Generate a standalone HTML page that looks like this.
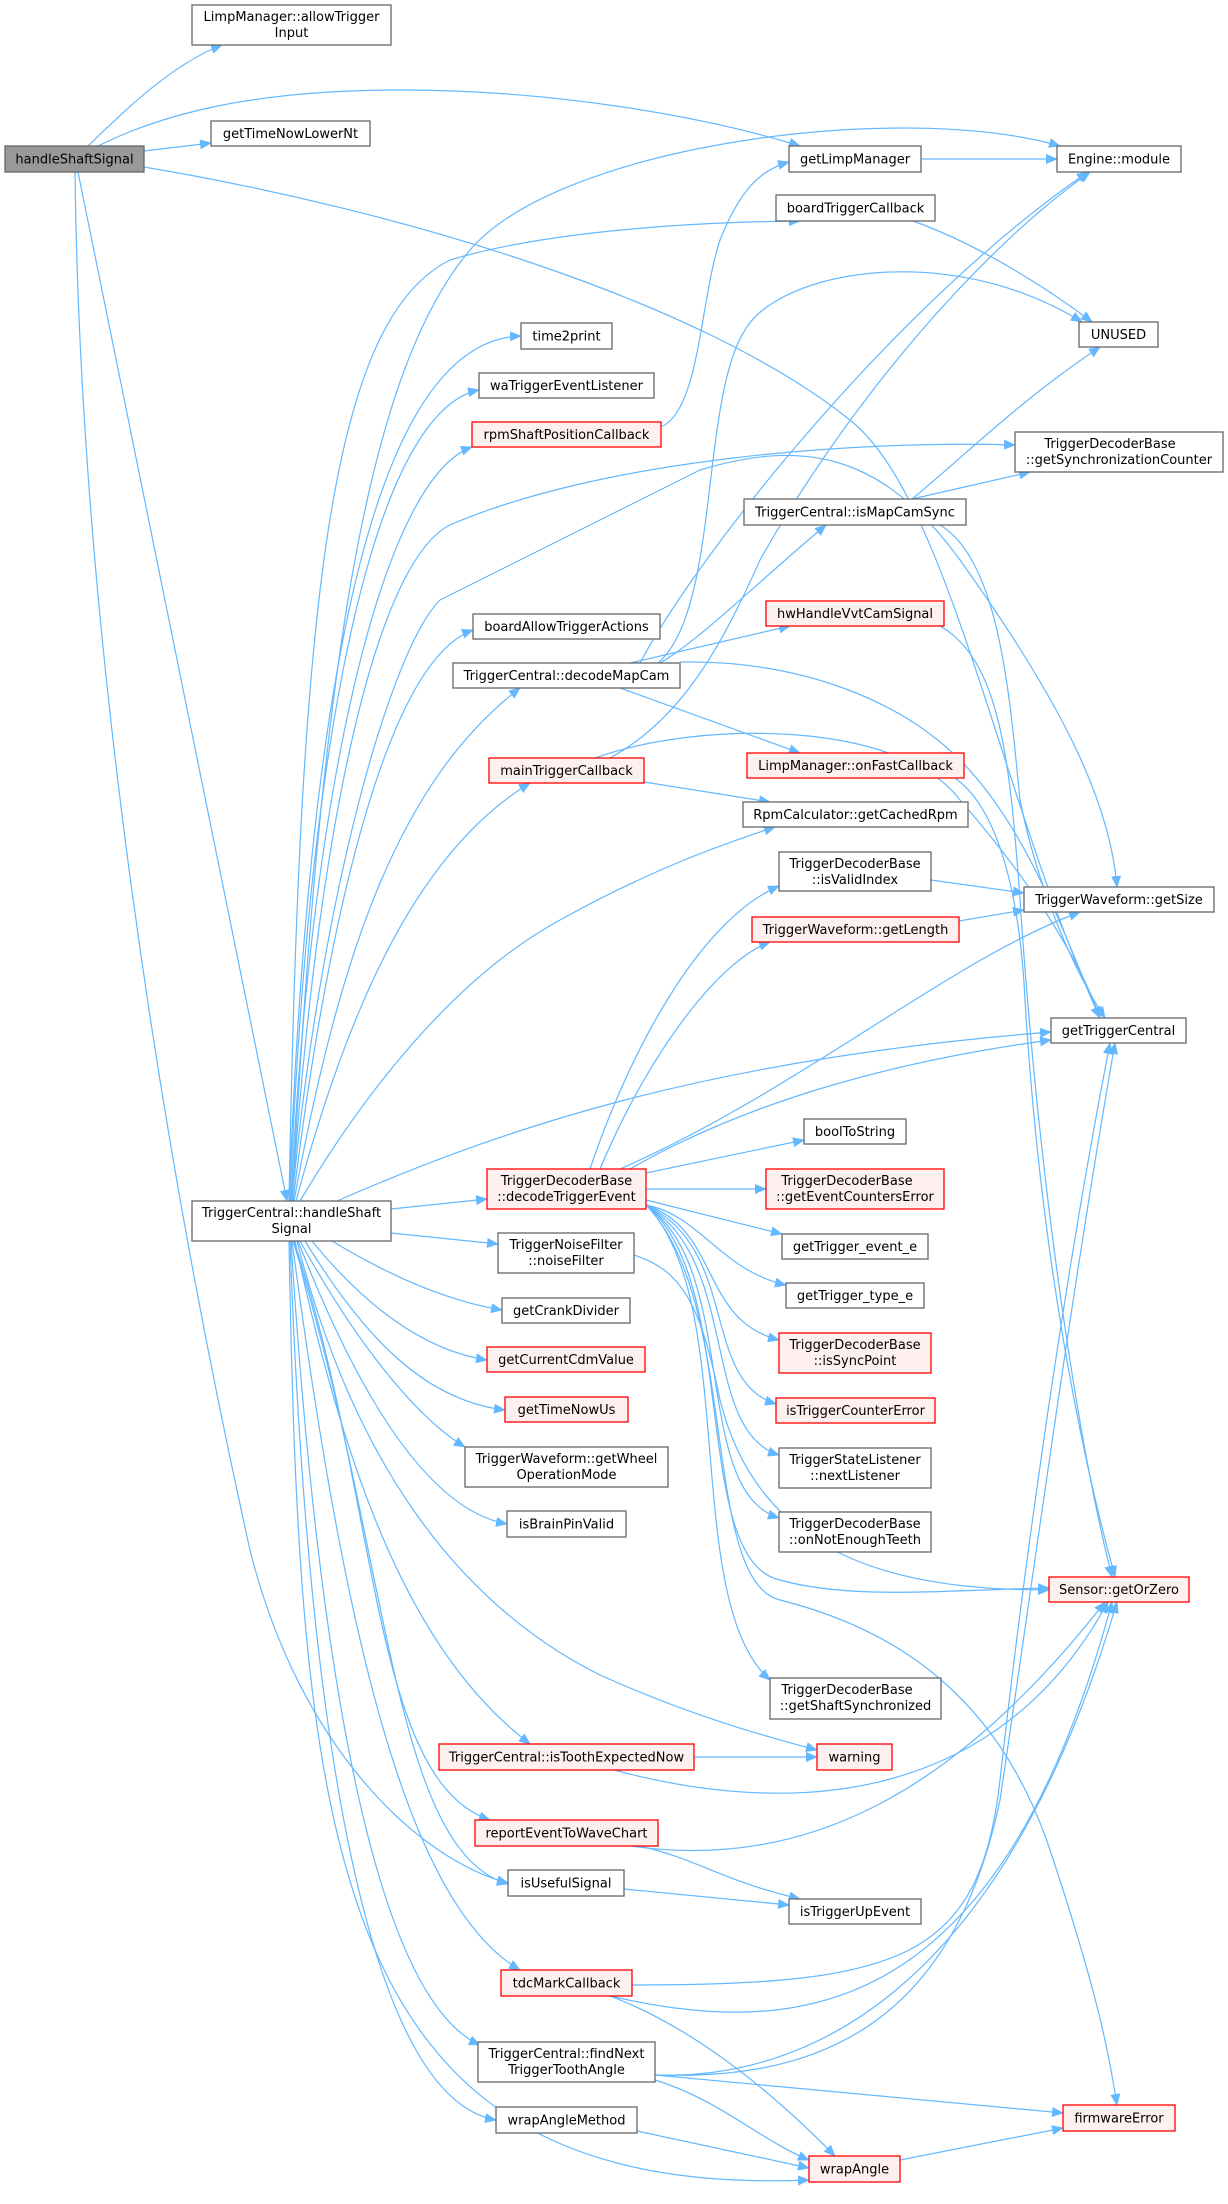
<!DOCTYPE html>
<html><head><meta charset="utf-8"><style>
html,body{margin:0;padding:0;background:#fff;}
svg{display:block;}
text{font-family:"DejaVu Sans","Liberation Sans",sans-serif;font-size:13px;fill:#000;text-anchor:middle;}
.n{fill:#fff;stroke:#666;stroke-width:1.3;}
.r{fill:#fff0f0;stroke:#ff0000;stroke-width:1.3;}
.g{fill:#999;stroke:#666;stroke-width:1.3;}
path.e{fill:none;stroke:#63b8ff;stroke-width:1.2;marker-end:url(#a);}
</style></head><body>
<svg width="1228" height="2204" viewBox="0 0 1228 2204" xmlns="http://www.w3.org/2000/svg">
<defs><marker id="a" markerWidth="12" markerHeight="10" refX="11" refY="5" orient="auto" markerUnits="userSpaceOnUse"><path d="M0,0 L12,5 L0,10 z" fill="#63b8ff"/></marker></defs>

<!-- edges -->
<path class="e" d="M88,146 C120,115 170,65 222,45"/>
<path class="e" d="M144,151 L211,143"/>
<path class="e" d="M98,146 C160,115 250,90 400,90 C550,90 700,115 800,146"/>
<path class="e" d="M144,167 C400,210 700,300 850,420 C950,500 1000,800 1100,1018"/>
<path class="e" d="M78,172 L287,1201"/>
<path class="e" d="M75,172 C80,600 150,1100 250,1550 C300,1750 420,1860 508,1883"/>

<path class="e" d="M292,1201 C320,700 360,380 470,250 C560,145 900,100 1060,146"/>
<path class="e" d="M661,427 C700,410 700,300 720,240 C740,190 760,170 789,162"/>
<path class="e" d="M913,221 C980,245 1050,290 1092,322"/>
<path class="e" d="M921,159 L1057,159"/>
<path class="e" d="M912,499 C960,460 1020,400 1100,347"/>
<path class="e" d="M912,499 L1030,472"/>
<path class="e" d="M940,525 C1000,560 1010,700 1020,800 C1040,900 1080,980 1105,1018"/>
<path class="e" d="M640,663 C700,550 900,300 1088,172"/>
<path class="e" d="M660,663 C700,640 760,580 826,525"/>
<path class="e" d="M630,663 L790,626"/>
<path class="e" d="M658,663 C720,610 700,400 745,330 C780,270 950,240 1082,322"/>
<path class="e" d="M680,662 C800,660 900,700 960,760 C1030,830 1070,950 1100,1018"/>
<path class="e" d="M620,688 L800,753"/>
<path class="e" d="M940,626 C1000,660 1010,760 1020,900 C1040,1200 1080,1450 1112,1577"/>
<path class="e" d="M955,778 C1000,810 1020,900 1025,1000 C1040,1250 1080,1450 1115,1577"/>
<path class="e" d="M610,758 C680,720 720,650 760,560 C850,400 980,250 1090,172"/>
<path class="e" d="M595,758 C700,720 900,720 960,800 C1030,880 1080,960 1100,1018"/>
<path class="e" d="M644,782 L770,802"/>
<path class="e" d="M300,1201 C360,1100 450,980 560,920 C650,870 720,845 775,827"/>
<path class="e" d="M296,1201 C350,1000 420,850 530,783"/>
<path class="e" d="M294,1201 C340,950 400,780 520,688"/>
<path class="e" d="M293,1201 C330,900 390,660 473,630"/>
<path class="e" d="M292,1201 C320,800 380,560 450,525 C600,460 850,440 1015,445"/>
<path class="e" d="M292,1201 C320,900 390,650 440,600 L700,470 C800,440 880,450 960,560 C1060,700 1110,800 1117,887"/>
<path class="e" d="M291,1201 C310,800 380,480 472,447"/>
<path class="e" d="M290,1201 C310,700 380,410 479,390"/>
<path class="e" d="M289,1201 C310,650 380,340 521,336"/>
<path class="e" d="M289,1201 C300,600 330,320 450,260 C550,230 700,222 800,221"/>
<path class="e" d="M391,1209 L487,1199"/>
<path class="e" d="M391,1233 L498,1244"/>
<path class="e" d="M332,1241 C380,1270 440,1300 502,1310"/>
<path class="e" d="M312,1241 C360,1300 420,1350 487,1360"/>
<path class="e" d="M305,1241 C360,1330 420,1400 505,1410"/>
<path class="e" d="M300,1241 C360,1350 420,1420 465,1447"/>
<path class="e" d="M298,1241 C360,1400 430,1510 507,1524"/>
<path class="e" d="M297,1241 C350,1450 450,1600 600,1675 C700,1720 780,1740 817,1750"/>
<path class="e" d="M295,1241 C350,1500 420,1660 530,1744"/>
<path class="e" d="M294,1241 C380,1500 370,1780 490,1820"/>
<path class="e" d="M293,1241 C390,1550 390,1850 508,1884"/>
<path class="e" d="M292,1241 C340,1600 400,1900 520,1970"/>
<path class="e" d="M291,1241 C320,1700 380,2000 480,2045"/>
<path class="e" d="M290,1241 C310,1800 380,2100 496,2120"/>
<path class="e" d="M289,1241 C300,1850 330,2200 809,2180"/>
<path class="e" d="M337,1201 C500,1130 700,1060 1051,1032"/>
<path class="e" d="M634,1255 C680,1270 700,1300 720,1400 C760,1560 900,1590 1049,1590"/>

<path class="e" d="M590,1169 C630,1050 700,920 779,886"/>
<path class="e" d="M600,1169 C650,1050 720,960 770,942"/>
<path class="e" d="M620,1169 C800,1090 950,960 1080,912"/>
<path class="e" d="M630,1169 C750,1100 900,1060 1051,1040"/>
<path class="e" d="M646,1173 L804,1140"/>
<path class="e" d="M646,1189 L766,1189"/>
<path class="e" d="M646,1200 L782,1234"/>
<path class="e" d="M646,1205 C700,1215 720,1270 786,1285"/>
<path class="e" d="M646,1205 C720,1230 700,1320 779,1340"/>
<path class="e" d="M646,1205 C740,1250 700,1380 776,1404"/>
<path class="e" d="M646,1205 C740,1260 700,1430 779,1455"/>
<path class="e" d="M646,1205 C740,1270 690,1490 779,1518"/>
<path class="e" d="M646,1205 C740,1280 690,1560 780,1580 C850,1600 950,1590 1049,1588"/>
<path class="e" d="M646,1205 C740,1300 680,1600 770,1680"/>
<path class="e" d="M646,1205 C740,1300 700,1580 780,1600 C900,1630 1000,1700 1050,1850 C1100,2000 1110,2060 1117,2105"/>

<path class="e" d="M931,880 L1024,893"/>
<path class="e" d="M959,921 L1024,910"/>
<path class="e" d="M630,1846 C800,1870 950,1800 1105,1602"/>
<path class="e" d="M640,1846 C700,1860 720,1880 800,1899"/>
<path class="e" d="M694,1757 L817,1757"/>
<path class="e" d="M614,1770 C800,1820 1000,1800 1108,1602"/>
<path class="e" d="M624,1889 L789,1905"/>
<path class="e" d="M632,1985 C900,1985 980,1960 1000,1780 C1020,1600 1060,1300 1110,1043"/>
<path class="e" d="M610,1996 C800,2040 1000,2020 1112,1602"/>
<path class="e" d="M610,1996 C700,2030 780,2100 835,2156"/>
<path class="e" d="M655,2075 C800,2080 950,2040 1000,1800 C1030,1600 1070,1300 1115,1043"/>
<path class="e" d="M655,2075 C800,2080 1000,2000 1117,1602"/>
<path class="e" d="M655,2075 L1063,2113"/>
<path class="e" d="M655,2080 C720,2100 760,2140 809,2160"/>
<path class="e" d="M637,2131 L809,2168"/>
<path class="e" d="M900,2160 L1063,2128"/>

<!-- nodes -->
<rect class="g" x="5" y="146" width="139" height="26"/><text x="74.5" y="163.5">handleShaftSignal</text>
<rect class="n" x="192" y="5" width="199" height="40"/><text x="291.5" y="21">LimpManager::allowTrigger</text><text x="291.5" y="37">Input</text>
<rect class="n" x="211" y="121" width="159" height="25"/><text x="290.5" y="138">getTimeNowLowerNt</text>
<rect class="n" x="789" y="146" width="132" height="26"/><text x="855" y="163.5">getLimpManager</text>
<rect class="n" x="1057" y="146" width="124" height="26"/><text x="1119" y="163.5">Engine::module</text>
<rect class="n" x="776" y="195" width="159" height="26"/><text x="855.5" y="212.5">boardTriggerCallback</text>
<rect class="n" x="1079" y="322" width="79" height="25"/><text x="1118.5" y="339">UNUSED</text>
<rect class="n" x="521" y="323" width="91" height="26"/><text x="566.5" y="340.5">time2print</text>
<rect class="n" x="479" y="373" width="175" height="25"/><text x="566.5" y="390">waTriggerEventListener</text>
<rect class="r" x="472" y="422" width="189" height="25"/><text x="566.5" y="439">rpmShaftPositionCallback</text>
<rect class="n" x="1015" y="432" width="208" height="40"/><text x="1110" y="448">TriggerDecoderBase</text><text x="1119" y="464">::getSynchronizationCounter</text>
<rect class="n" x="744" y="499" width="222" height="26"/><text x="855" y="516.5">TriggerCentral::isMapCamSync</text>
<rect class="r" x="766" y="601" width="178" height="25"/><text x="855" y="618">hwHandleVvtCamSignal</text>
<rect class="n" x="473" y="614" width="187" height="25"/><text x="566.5" y="631">boardAllowTriggerActions</text>
<rect class="n" x="453" y="663" width="227" height="25"/><text x="566.5" y="680">TriggerCentral::decodeMapCam</text>
<rect class="r" x="747" y="753" width="217" height="25"/><text x="855.5" y="770">LimpManager::onFastCallback</text>
<rect class="r" x="489" y="758" width="155" height="25"/><text x="566.5" y="775">mainTriggerCallback</text>
<rect class="n" x="743" y="802" width="225" height="25"/><text x="855.5" y="819">RpmCalculator::getCachedRpm</text>
<rect class="n" x="779" y="852" width="152" height="39"/><text x="855" y="868">TriggerDecoderBase</text><text x="855" y="884">::isValidIndex</text>
<rect class="n" x="1024" y="887" width="190" height="25"/><text x="1119" y="904">TriggerWaveform::getSize</text>
<rect class="r" x="752" y="917" width="207" height="25"/><text x="855.5" y="934">TriggerWaveform::getLength</text>
<rect class="n" x="1051" y="1018" width="135" height="25"/><text x="1118.5" y="1035">getTriggerCentral</text>
<rect class="n" x="804" y="1119" width="102" height="25"/><text x="855" y="1136">boolToString</text>
<rect class="r" x="487" y="1169" width="159" height="40"/><text x="566.5" y="1185">TriggerDecoderBase</text><text x="566.5" y="1201">::decodeTriggerEvent</text>
<rect class="r" x="766" y="1169" width="178" height="40"/><text x="847" y="1185">TriggerDecoderBase</text><text x="855" y="1201">::getEventCountersError</text>
<rect class="n" x="192" y="1201" width="199" height="40"/><text x="291.5" y="1217">TriggerCentral::handleShaft</text><text x="291.5" y="1233">Signal</text>
<rect class="n" x="498" y="1233" width="136" height="40"/><text x="566" y="1249">TriggerNoiseFilter</text><text x="566" y="1265">::noiseFilter</text>
<rect class="n" x="782" y="1234" width="146" height="25"/><text x="855" y="1251">getTrigger_event_e</text>
<rect class="n" x="786" y="1283" width="138" height="25"/><text x="855" y="1300">getTrigger_type_e</text>
<rect class="n" x="502" y="1298" width="128" height="25"/><text x="566" y="1315">getCrankDivider</text>
<rect class="r" x="779" y="1333" width="152" height="40"/><text x="855" y="1349">TriggerDecoderBase</text><text x="855" y="1365">::isSyncPoint</text>
<rect class="r" x="487" y="1347" width="158" height="25"/><text x="566" y="1364">getCurrentCdmValue</text>
<rect class="r" x="505" y="1397" width="123" height="25"/><text x="566.5" y="1414">getTimeNowUs</text>
<rect class="r" x="776" y="1398" width="159" height="25"/><text x="855.5" y="1415">isTriggerCounterError</text>
<rect class="n" x="465" y="1447" width="203" height="40"/><text x="566.5" y="1463">TriggerWaveform::getWheel</text><text x="566.5" y="1479">OperationMode</text>
<rect class="n" x="779" y="1448" width="152" height="40"/><text x="855" y="1464">TriggerStateListener</text><text x="855" y="1480">::nextListener</text>
<rect class="n" x="507" y="1511" width="119" height="26"/><text x="566.5" y="1528.5">isBrainPinValid</text>
<rect class="n" x="779" y="1512" width="152" height="40"/><text x="855" y="1528">TriggerDecoderBase</text><text x="855" y="1544">::onNotEnoughTeeth</text>
<rect class="r" x="1049" y="1577" width="140" height="25"/><text x="1119" y="1594">Sensor::getOrZero</text>
<rect class="n" x="770" y="1678" width="171" height="41"/><text x="847" y="1694">TriggerDecoderBase</text><text x="855.5" y="1710">::getShaftSynchronized</text>
<rect class="r" x="439" y="1744" width="255" height="26"/><text x="566.5" y="1761.5">TriggerCentral::isToothExpectedNow</text>
<rect class="r" x="817" y="1744" width="75" height="26"/><text x="854.5" y="1761.5">warning</text>
<rect class="r" x="475" y="1820" width="183" height="26"/><text x="566.5" y="1837.5">reportEventToWaveChart</text>
<rect class="n" x="508" y="1870" width="116" height="26"/><text x="566" y="1887.5">isUsefulSignal</text>
<rect class="n" x="789" y="1899" width="132" height="25"/><text x="855" y="1916">isTriggerUpEvent</text>
<rect class="r" x="501" y="1970" width="131" height="26"/><text x="566.5" y="1987.5">tdcMarkCallback</text>
<rect class="n" x="478" y="2042" width="177" height="40"/><text x="566.5" y="2058">TriggerCentral::findNext</text><text x="566.5" y="2074">TriggerToothAngle</text>
<rect class="r" x="1063" y="2105" width="112" height="26"/><text x="1119" y="2122.5">firmwareError</text>
<rect class="n" x="496" y="2107" width="141" height="26"/><text x="566.5" y="2124.5">wrapAngleMethod</text>
<rect class="r" x="809" y="2156" width="91" height="26"/><text x="854.5" y="2173.5">wrapAngle</text>
</svg>
</body></html>
